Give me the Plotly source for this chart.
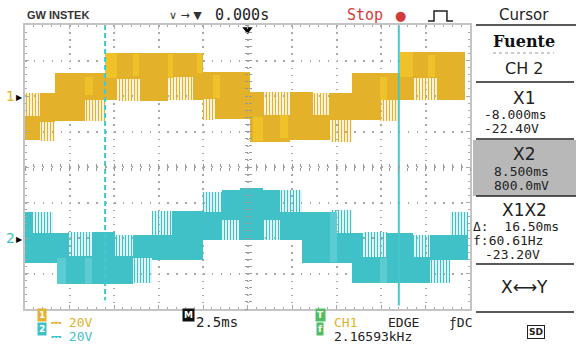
import numpy as np
import plotly.graph_objects as go

W, H = 576, 348

# ---- scope settings -------------------------------------------------------
TIME_PER_DIV_MS = 2.5
VOLT_PER_DIV = 20.0
H_DIVS, V_DIVS = 10, 8
CH1_POS_V = 40.0      # channel 1 ground marker (2 div above centre)
CH2_POS_V = -40.0     # channel 2 ground marker (2 div below centre)
TRIGGER_MS = 0.0
CURSOR_X1_MS = -8.0
CURSOR_X2_MS = 8.5

# ---- CH1 (yellow) staircase: segment edges, solid band and PWM band (V) ----
ch1_edges_ms = [-12.5, -11.66, -10.81, -9.13, -8.01, -7.33, -6.04, -4.47, -3.06, -2.50,
                -1.83, 0.14, 0.87, 2.39, 3.68, 4.63, 5.87, 7.44, 8.57, 9.30, 10.65, 12.2]
ch1_solid_hi = [-11.3, 1.7, 13.0, 13.0, 24.2, 24.2, 24.2, 24.2, 24.2, 13.5, 13.5,
                2.3, -10.7, 2.3, -10.7, 1.7, 13.0, 13.0, 24.8, 24.8, 24.8]
ch1_solid_lo = [-24.8, -14.6, -14.1, -2.3, -2.3, 9.6, -2.8, 10.7, -2.3, -1.7, -13.0,
                -25.9, -25.9, -24.8, -24.8, -13.5, -13.5, -2.3, -2.3, 10.1, -2.3]
ch1_pwm_hi = [1.7, -14.6, None, -2.3, None, 9.6, None, 10.7, None, -1.7, None,
              None, 2.3, None, 1.7, -13.5, None, -2.3, None, 10.1, None]
ch1_pwm_lo = [-11.3, -25.4, None, -14.1, None, -2.8, None, -2.3, None, -13.5, None,
              None, -10.7, None, -10.7, -25.9, None, -14.1, None, -2.3, None]
# brighter (denser trace) strips inside the CH1 band
ch1_glow_t0 = [-9.13, -8.01, -6.43, -4.47, -2.84, -1.94, 0.31, 1.83, 7.44, 8.57, 10.14]
ch1_glow_t1 = [-8.68, -7.33, -6.10, -4.19, -2.56, -1.54, 0.87, 2.28, 7.84, 9.30, 10.53]
ch1_glow_hi = [10.7, 24.2, 23.7, 23.7, 24.2, 11.8, -11.8, -10.7, 10.7, 24.8, 23.1]
ch1_glow_lo = [0.6, 10.1, 11.3, 10.1, 13.0, -1.1, -25.4, -23.7, -2.3, 10.7, 10.7]

# ---- CH2 (cyan) staircase ---------------------------------------------------
ch2_edges_ms = [-12.5, -12.05, -10.93, -10.70, -10.08, -8.74, -7.44, -6.43, -5.37, -4.24,
                -2.50, -1.43, -0.42, 0.87, 1.83, 3.06, 4.63, 5.87, 6.49, 7.84, 9.30,
                10.25, 11.38, 12.4]
ch2_solid_hi = [14.6, 2.8, 2.8, 2.8, -10.1, 3.4, -10.1, 1.7, 1.7, 15.2, 14.6, 27.0,
                28.2, 27.0, 14.6, 14.6, 2.8, 2.8, -10.7, 2.8, -10.7, 1.7, 1.7]
ch2_solid_lo = [-14.1, -14.1, -14.1, -25.9, -25.9, -25.9, -25.9, -11.3, -12.4, -12.4,
                -1.1, 10.1, -1.1, 10.1, -1.1, -14.1, -14.1, -25.4, -25.4, -25.4, -25.4,
                -12.4, -12.4]
ch2_pwm_hi = [None, 14.6, None, None, 3.4, None, 1.7, -11.3, 15.2, None, 25.9, 10.1,
              None, 10.1, 27.0, None, 15.8, None, 3.4, None, 1.7, -12.4, 14.6]
ch2_pwm_lo = [None, 2.8, None, None, -10.1, None, -10.1, -25.4, 1.7, None, 14.6, -1.1,
              None, -1.1, 14.6, None, 2.8, None, -10.7, None, -10.7, -25.4, 1.7]
ch2_glow_t0 = [-10.70, -9.13, 4.63, 7.44]
ch2_glow_t1 = [-10.19, -8.74, 5.03, 7.84]
ch2_glow_hi = [-11.3, -11.3, 14.6, -11.3]
ch2_glow_lo = [-25.9, -25.9, -13.5, -25.4]

# ---- readouts ----------------------------------------------------------------
cursor_source = "CH 2"
x1_readout = ["-8.000ms", "-22.40V"]
x2_readout = ["8.500ms", "800.0mV"]
dx_readout = ["\u0394:  16.50ms", "f:60.61Hz", "-23.20V"]
ch_scales = ["20V", "20V"]
time_scale = "2.5ms"
trig_freq = "2.16593kHz"

YEL = "#E3B12A"
YEL_HI = "#F0C22A"
CYN = "#40C1C8"
CYN_HI = "#5CCCD2"
CUR = "#45C8CC"
GRN = "#52BE64"
MONO = "DejaVu Sans Mono"
SANS = "DejaVu Sans"

XR = [-H_DIVS / 2 * TIME_PER_DIV_MS, H_DIVS / 2 * TIME_PER_DIV_MS]
YR = [-V_DIVS / 2 * VOLT_PER_DIV, V_DIVS / 2 * VOLT_PER_DIV]
XDOM = [25 / W, 470 / W]
YDOM = [1 - 309 / H, 1 - 25 / H]


def bars(t0, t1, hi, lo, offset, color, pwm=False):
    t0 = np.asarray(t0, float)
    t1 = np.asarray(t1, float)
    hi = np.asarray(hi, float)
    lo = np.asarray(lo, float)
    m = ~np.isnan(hi)
    marker = dict(color=color, line=dict(width=0))
    if pwm:
        marker["pattern"] = dict(shape="|", size=3, solidity=0.45, fillmode="replace")
    return go.Bar(x=((t0 + t1) / 2)[m], width=(t1 - t0)[m], base=lo[m] + offset,
                  y=(hi - lo)[m], marker=marker, hoverinfo="skip", showlegend=False)


def band(edges, hi, lo, offset, color, pwm):
    e = np.asarray(edges, float)
    return bars(e[:-1], e[1:], hi, lo, offset, color, pwm)


fig = go.Figure()
fig.add_trace(band(ch1_edges_ms, ch1_solid_hi, ch1_solid_lo, CH1_POS_V, YEL, False))
fig.add_trace(band(ch1_edges_ms, ch1_pwm_hi, ch1_pwm_lo, CH1_POS_V, YEL, True))
fig.add_trace(bars(ch1_glow_t0, ch1_glow_t1, ch1_glow_hi, ch1_glow_lo, CH1_POS_V, YEL_HI))
fig.add_trace(band(ch2_edges_ms, ch2_solid_hi, ch2_solid_lo, CH2_POS_V, CYN, False))
fig.add_trace(band(ch2_edges_ms, ch2_pwm_hi, ch2_pwm_lo, CH2_POS_V, CYN, True))
fig.add_trace(bars(ch2_glow_t0, ch2_glow_t1, ch2_glow_hi, ch2_glow_lo, CH2_POS_V, CYN_HI))

# cursors
fig.add_trace(go.Scatter(x=[CURSOR_X1_MS, CURSOR_X1_MS], y=[YR[1], YR[0] + 5], mode="lines",
                         line=dict(color=CUR, width=2, dash="5px,3px"),
                         hoverinfo="skip", showlegend=False))
fig.add_trace(go.Scatter(x=[CURSOR_X2_MS, CURSOR_X2_MS], y=[YR[1], YR[0] + 2], mode="lines",
                         line=dict(color=CUR, width=2), hoverinfo="skip", showlegend=False))
# trigger position marker
fig.add_trace(go.Scatter(x=[TRIGGER_MS], y=[YR[1] - 2.5], mode="markers",
                         marker=dict(symbol="triangle-down", size=9, color="black"),
                         cliponaxis=False, hoverinfo="skip", showlegend=False))

# dummy traces so the centre-cross tick axes are drawn
for xa, ya in (("x2", "y"), ("x3", "y"), ("x", "y2"), ("x", "y3")):
    fig.add_trace(go.Scatter(x=[0], y=[0], xaxis=xa, yaxis=ya, mode="markers",
                             marker=dict(opacity=0), hoverinfo="skip", showlegend=False))

axis_common = dict(showticklabels=False, zeroline=False, fixedrange=True)
fig.update_layout(
    width=W, height=H, margin=dict(l=0, r=0, t=0, b=0),
    paper_bgcolor="white", plot_bgcolor="white", barmode="overlay", bargap=0,
    xaxis=dict(domain=XDOM, range=XR, dtick=TIME_PER_DIV_MS, tick0=0,
               showgrid=True, gridcolor="#A8A8A8", gridwidth=1.5, griddash="1.5px,5.6px",
               ticks="inside", ticklen=4, tickcolor="#AAAAAA", showline=True,
               linecolor="#C4C4C4", linewidth=1.5, mirror="ticks",
               minor=dict(dtick=TIME_PER_DIV_MS / 5, ticks="inside", ticklen=2,
                          tickcolor="#AAAAAA", showgrid=False), **axis_common),
    yaxis=dict(domain=YDOM, range=YR, dtick=VOLT_PER_DIV, tick0=0,
               showgrid=True, gridcolor="#A8A8A8", gridwidth=1.5, griddash="1.5px,7.4px",
               ticks="inside", ticklen=4, tickcolor="#AAAAAA", showline=True,
               linecolor="#C4C4C4", linewidth=1.5, mirror="ticks",
               minor=dict(dtick=VOLT_PER_DIV / 5, ticks="inside", ticklen=2,
                          tickcolor="#AAAAAA", showgrid=False), **axis_common),
    xaxis2=dict(overlaying="x", anchor="free", position=sum(YDOM) / 2, range=XR,
                dtick=TIME_PER_DIV_MS / 5, tick0=0, ticks="outside", ticklen=3,
                tickcolor="#999999", showgrid=False, showline=False, **axis_common),
    xaxis3=dict(overlaying="x", anchor="free", position=sum(YDOM) / 2, range=XR,
                dtick=TIME_PER_DIV_MS / 5, tick0=0, ticks="inside", ticklen=3,
                tickcolor="#999999", showgrid=False, showline=False, **axis_common),
    yaxis2=dict(overlaying="y", anchor="free", position=sum(XDOM) / 2, range=YR,
                dtick=VOLT_PER_DIV / 5, tick0=0, ticks="outside", ticklen=3,
                tickcolor="#999999", showgrid=False, showline=False, **axis_common),
    yaxis3=dict(overlaying="y", anchor="free", position=sum(XDOM) / 2, range=YR,
                dtick=VOLT_PER_DIV / 5, tick0=0, ticks="inside", ticklen=3,
                tickcolor="#999999", showgrid=False, showline=False, **axis_common),
)


def ann(text, px, py, size=13, color="#222222", family=MONO, xanchor="center", **kw):
    fig.add_annotation(text=text, x=px / W, y=1 - py / H, xref="paper", yref="paper",
                       xanchor=xanchor, yanchor="middle", showarrow=False,
                       font=dict(size=size, color=color, family=family), **kw)


def pline(x0, x1, py, color="#222222", width=1.5, dash="solid"):
    fig.add_shape(type="line", xref="paper", yref="paper", x0=x0 / W, x1=x1 / W,
                  y0=1 - py / H, y1=1 - py / H, line=dict(color=color, width=width, dash=dash))


# channel ground markers
for pos, lab, col in ((CH1_POS_V, "1", YEL), (CH2_POS_V, "2", CYN)):
    fig.add_annotation(text="\u25B6", x=XR[0], y=pos, xref="x", yref="y", xanchor="right",
                       yanchor="middle", showarrow=False, font=dict(size=8, color="black"))
    fig.add_annotation(text=lab, x=XR[0], y=pos, xref="x", yref="y", xanchor="right",
                       yanchor="middle", showarrow=False, xshift=-8,
                       font=dict(size=14, color=col, family=SANS))

# ---- header ----
ann("<b>GW INSTEK</b>", 25, 15, size=11, color="#333333", family="Liberation Sans", xanchor="left")
ann("\u2228 \u2192 \u25BC", 167, 15, size=11, color="#333333", family=SANS, xanchor="left")
ann("0.000s", 213, 15, size=15, xanchor="left")
ann("Stop", 345, 15, size=15, color="#D23B3B", xanchor="left")
ann("\u25CF", 400, 15, size=13, color="#D23B3B", family=SANS)
fig.add_shape(type="path", xref="paper", yref="paper",
              path="M {:.4f},{:.4f} H {:.4f} V {:.4f} H {:.4f} V {:.4f} H {:.4f}".format(
                  428 / W, 1 - 21 / H, 434 / W, 1 - 11 / H, 447 / W, 1 - 21 / H, 453 / W),
              line=dict(color="#222222", width=1.5))

# ---- right panel ----
PX = 524
ann("Cursor", PX, 15, size=15, family=SANS)
pline(476, 576, 25)
ann("<b>Fuente</b>", PX, 41, size=16, color="#111111", family="DejaVu Serif")
pline(493, 554, 53, color="#999999", width=1, dash="dot")
ann(cursor_source, PX, 68, size=16, family=SANS)
pline(476, 574, 82)
ann("X1", PX, 98, size=17, family=SANS)
ann(x1_readout[0], 482, 114, xanchor="left")
ann(x1_readout[1], 482, 128, xanchor="left")
pline(476, 574, 139)
fig.add_shape(type="rect", xref="paper", yref="paper", x0=473 / W, x1=1, y0=1 - 196 / H,
              y1=1 - 140 / H, fillcolor="#B8B8B8", line=dict(width=0), layer="below")
ann("X2", PX, 154, size=17, family=SANS)
ann(x2_readout[0], 492, 171, xanchor="left")
ann(x2_readout[1], 492, 185, xanchor="left")
pline(476, 576, 196)
ann("X1X2", PX, 210, size=17, family=SANS)
ann(dx_readout[0], 471, 226, xanchor="left")
ann(dx_readout[1], 471, 240, xanchor="left")
ann(dx_readout[2], 483, 254, xanchor="left")
pline(476, 574, 264)
ann("X\u27F7Y", PX, 287, size=17, family=SANS)
pline(476, 574, 312)

# ---- footer ----
def badge(lab, px, py, bg):
    fig.add_annotation(text="<b>%s</b>" % lab, x=px / W, y=1 - py / H, xref="paper", yref="paper",
                       showarrow=False, bgcolor=bg, borderpad=1,
                       font=dict(size=9, color="white", family=SANS))

badge("1", 37, 322, YEL)
ann("\u2393 " + ch_scales[0], 49, 322, color=YEL, xanchor="left")
badge("2", 37, 336, CYN)
ann("\u2393 " + ch_scales[1], 49, 336, color=CYN, xanchor="left")
badge("M", 182, 322, "#111111")
ann(time_scale, 194, 322, size=14, xanchor="left")
badge("T", 320, 322, GRN)
ann("CH1", 332, 322, color=YEL, xanchor="left")
ann("EDGE", 386, 322, xanchor="left")
ann("\u0192DC", 447, 322, xanchor="left")
badge("f", 320, 336, GRN)
ann(trig_freq, 332, 336, xanchor="left")
fig.add_annotation(text="<b>SD</b>", x=545 / W, y=1 - 339 / H, xref="paper", yref="paper",
                   showarrow=False, bordercolor="#222222", borderwidth=1, borderpad=1,
                   font=dict(size=9, color="#222222", family=SANS))

fig.write_html("out.html", config={"displayModeBar": False},
               post_script="document.body.style.margin='0px';document.body.style.overflow='hidden';")
